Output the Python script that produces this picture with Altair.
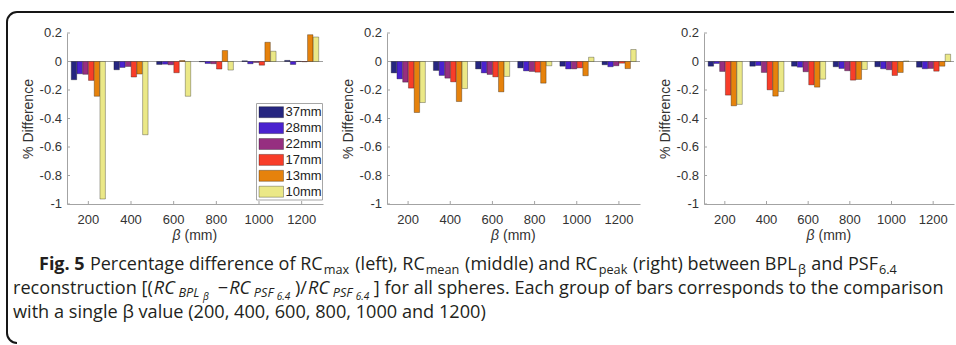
import altair as alt
import pandas as pd

# ---------------- data ----------------
betas = [200, 400, 600, 800, 1000, 1200]
sizes = ["37mm", "28mm", "22mm", "17mm", "13mm", "10mm"]
colors = ["#262680", "#4a22cf", "#962f80", "#f83d29", "#e6820c", "#ebe887"]
y_ticks = [-1, -0.8, -0.6, -0.4, -0.2, 0, 0.2]
y_tick_labels = ["-1", "-0.8", "-0.6", "-0.4", "-0.2", "0", "0.2"]

# rows = beta groups, columns = sphere sizes (37, 28, 22, 17, 13, 10 mm)
rc_max = [
    [-0.128, -0.086, -0.090, -0.133, -0.244, -0.965],
    [-0.058, -0.042, -0.035, -0.109, -0.088, -0.514],
    [-0.021, -0.019, -0.023, -0.079, 0.007, -0.244],
    [-0.002, -0.014, -0.016, -0.053, 0.077, -0.060],
    [0.005, -0.016, -0.007, -0.026, 0.135, 0.072],
    [0.008, -0.021, 0.001, -0.002, 0.188, 0.172],
]
rc_mean = [
    [-0.080, -0.122, -0.145, -0.187, -0.358, -0.288],
    [-0.063, -0.098, -0.117, -0.143, -0.281, -0.190],
    [-0.052, -0.080, -0.091, -0.108, -0.213, -0.105],
    [-0.045, -0.066, -0.070, -0.075, -0.152, -0.030],
    [-0.033, -0.052, -0.052, -0.045, -0.100, 0.030],
    [-0.023, -0.037, -0.030, -0.012, -0.050, 0.084],
]
rc_peak = [
    [-0.033, -0.014, -0.070, -0.236, -0.311, -0.301],
    [-0.033, -0.028, -0.077, -0.199, -0.243, -0.210],
    [-0.033, -0.040, -0.072, -0.164, -0.180, -0.124],
    [-0.037, -0.049, -0.065, -0.131, -0.126, -0.056],
    [-0.037, -0.051, -0.058, -0.098, -0.077, 0.004],
    [-0.040, -0.051, -0.049, -0.068, -0.033, 0.051],
]

# ---------------- style / layout ----------------
AXIS_FONT = "Liberation Sans"
CAP_FONT = "Open Sans"
AX = "#a3a3a3"
LC = "#333333"
H = 171
OX, OY = 67, 33  # page position of the first panel's plot origin


def long_df(vals):
    rows = []
    for bi, b in enumerate(betas):
        for si, s in enumerate(sizes):
            rows.append({"beta": b, "size": s, "value": vals[bi][si]})
    return pd.DataFrame(rows)


ys = alt.Scale(domain=[-1, 0.2], nice=False)
color_scale = alt.Scale(domain=sizes, range=colors)
one = pd.DataFrame({"k": [0]})
ytick_df = pd.DataFrame({"value": y_ticks, "label": y_tick_labels})


def panel_layers(vals, width):
    df = long_df(vals)
    xs = alt.Scale(paddingInner=0.2, paddingOuter=0.1)
    x_axis = alt.Axis(
        title=None, labelAngle=0, ticks=False, domainColor=AX, domainWidth=1,
        labelFont=AXIS_FONT, labelFontSize=13, labelColor=LC, labelPadding=9,
        labelOverlap=False,
    )
    y_axis = alt.Axis(
        title="% Difference", labels=False, ticks=False, grid=False,
        domainColor=AX, domainWidth=1,
        titleFont=AXIS_FONT, titleFontSize=14, titleFontWeight="normal",
        titleColor=LC, titleX=-39, titleY=H / 2, titleAngle=270,
        titleAlign="center", titleBaseline="middle",
    )
    base = alt.Chart(pd.DataFrame({"value": [0]})).mark_rule(
        color="#9e9e9e", strokeWidth=1
    ).encode(y=alt.Y("value:Q", scale=ys))
    bars = alt.Chart(df).mark_bar(
        stroke="#000", strokeOpacity=0.5, strokeWidth=0.6
    ).encode(
        x=alt.X("beta:N", sort=betas, scale=xs, axis=x_axis),
        xOffset=alt.XOffset("size:N", sort=sizes,
                            scale=alt.Scale(paddingInner=0.05, paddingOuter=0)),
        y=alt.Y("value:Q", scale=ys, axis=y_axis),
        color=alt.Color("size:N", sort=sizes, scale=color_scale, legend=None),
    )
    xt = alt.Chart(pd.DataFrame({"beta": betas})).mark_rule(color=AX).encode(
        x=alt.X("beta:N", sort=betas, scale=xs, bandPosition=0.5),
        y=alt.value(H), y2=alt.value(H - 3),
    )
    yt = alt.Chart(ytick_df).mark_rule(color=AX).encode(
        y=alt.Y("value:Q", scale=ys), x=alt.value(0), x2=alt.value(3),
    )
    yl = alt.Chart(ytick_df).mark_text(
        align="right", baseline="middle", font=AXIS_FONT, fontSize=13, color=LC
    ).encode(y=alt.Y("value:Q", scale=ys), x=alt.value(-5), text="label:N")
    # x title: italic beta followed by upright "(mm)"
    c = width / 2
    xt_beta = alt.Chart(one).mark_text(
        text="β", align="left", baseline="alphabetic", font=AXIS_FONT, fontSize=14,
        fontStyle="italic", color=LC
    ).encode(x=alt.value(c - 22.5), y=alt.value(H + 36))
    xt_mm = alt.Chart(one).mark_text(
        text="(mm)", align="left", baseline="alphabetic", font=AXIS_FONT, fontSize=14,
        color=LC
    ).encode(x=alt.value(c - 10.5), y=alt.value(H + 36))
    return alt.layer(base, bars, xt, yt, yl, xt_beta, xt_mm)


# ---------------- legend (drawn inside panel 1) ----------------
leg_df = pd.DataFrame({"size": sizes})
leg_scale = alt.Scale(range=[73.7, 164.2], paddingInner=0.31, paddingOuter=0)
leg_box = alt.Chart(one).mark_rect(fill="white", stroke="#a6a6a6", strokeWidth=1).encode(
    x=alt.value(189.5), x2=alt.value(255.5), y=alt.value(70.5), y2=alt.value(167)
)
leg_sw = alt.Chart(leg_df).mark_rect(stroke="#000", strokeOpacity=0.5, strokeWidth=0.6).encode(
    y=alt.Y("size:N", sort=sizes, axis=None, scale=leg_scale),
    x=alt.value(192), x2=alt.value(216.5),
    color=alt.Color("size:N", sort=sizes, scale=color_scale, legend=None),
)
leg_lab = alt.Chart(leg_df).mark_text(
    align="left", baseline="middle", font=AXIS_FONT, fontSize=13, color="#222"
).encode(
    y=alt.Y("size:N", sort=sizes, axis=None, scale=leg_scale, bandPosition=0.5),
    x=alt.value(218.5), text="size:N",
)
legend_layer = alt.layer(leg_box, leg_sw, leg_lab)

# ---------------- caption (text runs with subscripts) ----------------
EM = {' ': .26, '(': .296, ')': .296, '[': .329, ']': .329, ',': .245, '.': .266,
      '/': .371, '−': .571, 'A': .633, 'B': .648, 'C': .631, 'E': .556, 'F': .516,
      'L': .524, 'P': .602, 'R': .618, 'S': .539, 'a': .556, 'b': .613, 'c': .476,
      'd': .613, 'e': .561, 'f': .339, 'g': .548, 'h': .614, 'i': .253, 'k': .525,
      'l': .253, 'm': .930, 'n': .614, 'o': .604, 'p': .613, 'r': .408, 's': .477,
      't': .353, 'u': .614, 'v': .501, 'w': .778, 'β': .61}
for d in "0123456789":
    EM[d] = .572


def em_width(t):
    return sum(EM.get(c, .55) for c in t)


M1, S1 = 18.0, 12.7          # first caption line
MAIN, SUB, SUB2 = 18.15, 12.7, 10
cap_lines = [
    (39, 270, [("Fig. 5", M1, "bold", "normal", 0),
               (" Percentage difference of RC", M1, "normal", "normal", 0),
               ("max", S1, "normal", "normal", 4),
               (" (left), RC", M1, "normal", "normal", 0),
               ("mean", S1, "normal", "normal", 4),
               (" (middle) and RC", M1, "normal", "normal", 0),
               ("peak", S1, "normal", "normal", 4),
               (" (right) between BPL", M1, "normal", "normal", 0),
               ("β", S1, "normal", "normal", 4),
               (" and PSF", M1, "normal", "normal", 0),
               ("6.4", S1, "normal", "normal", 4)]),
    (13, 294, [("reconstruction [(", MAIN, "normal", "normal", 0),
               ("RC", MAIN, "normal", "italic", 0),
               ("BPL", SUB, "normal", "italic", 3),
               ("β", SUB2, "normal", "italic", 6),
               (" −", MAIN, "normal", "normal", 0),
               ("RC", MAIN, "normal", "italic", 0),
               ("PSF", SUB, "normal", "italic", 3),
               ("6.4", SUB2, "normal", "italic", 6),
               (")/", MAIN, "normal", "normal", 0),
               ("RC", MAIN, "normal", "italic", 0),
               ("PSF", SUB, "normal", "italic", 3),
               ("6.4", SUB2, "normal", "italic", 6),
               ("] for all spheres. Each group of bars corresponds to the comparison",
                MAIN, "normal", "normal", 0)]),
    (13, 318, [("with a single β value (200, 400, 600, 800, 1000 and 1200)",
                MAIN, "normal", "normal", 0)]),
]

caption_layers = []
for x0, yb, runs in cap_lines:
    cx = x0
    for txt, fs, fw, fst, dy in runs:
        lead = len(txt) - len(txt.lstrip(" "))
        cx += lead * EM[' '] * fs
        body = txt.strip(" ")
        caption_layers.append(
            alt.Chart(one).mark_text(
                text=body, font=CAP_FONT, fontSize=fs, fontWeight=fw, fontStyle=fst,
                align="left", baseline="alphabetic", color="#231f20",
            ).encode(x=alt.value(cx - OX), y=alt.value(yb + dy - OY))
        )
        if fs == SUB2:
            gap = 4.0
        elif fst == "italic":
            gap = 2.0
        else:
            gap = 1.0
        cx += em_width(body) * fs * (1.04 if fw == "bold" else 1.0) + gap

# ---------------- rounded frame (top and left sides) ----------------
FR = "#161616"
frame = [
    alt.Chart(one).mark_rule(color=FR, strokeWidth=2).encode(
        x=alt.value(17 - OX), x2=alt.value(954 - OX), y=alt.value(12 - OY)),
    alt.Chart(one).mark_rule(color=FR, strokeWidth=2).encode(
        x=alt.value(7 - OX), y=alt.value(22 - OY), y2=alt.value(333 - OY)),
    alt.Chart(one).mark_arc(radius=11, radius2=9, theta=4.712389, theta2=6.283185,
                            color=FR).encode(x=alt.value(17 - OX), y=alt.value(22 - OY)),
    alt.Chart(one).mark_arc(radius=11, radius2=9, theta=3.141593, theta2=4.712389,
                            color=FR).encode(x=alt.value(17 - OX), y=alt.value(333 - OY)),
]

p1 = alt.layer(panel_layers(rc_max, 256), legend_layer, *caption_layers, *frame).resolve_scale(
    y="independent").properties(width=256, height=H)
p2 = panel_layers(rc_mean, 253).properties(width=253, height=H)
p3 = panel_layers(rc_peak, 250).properties(width=250, height=H)

chart = alt.hconcat(p1, p2, p3, spacing=64, bounds="flush").properties(
    padding={"left": 6, "top": 11, "right": 0, "bottom": 0},
    background="white",
).configure_view(stroke=None).configure_axis(grid=False)

chart.save("out.html", embed_options={"renderer": "svg", "actions": False})
